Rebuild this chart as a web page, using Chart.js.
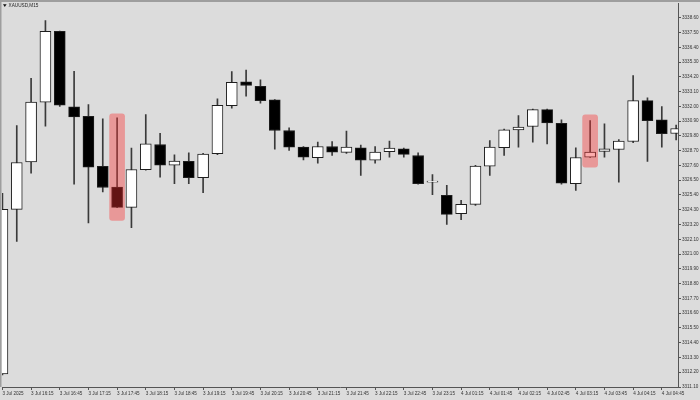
<!DOCTYPE html>
<html>
<head>
<meta charset="utf-8">
<script src="https://cdn.jsdelivr.net/npm/chart.js@4.4.1/dist/chart.umd.min.js"></script>
<style>
  html, body { margin: 0; padding: 0; background: #dcdcdc; }
  #wrap { width: 700px; height: 400px; position: relative; }
</style>
</head>
<body>
<div id="wrap"><canvas id="candles"></canvas></div>
<script>
const symbol = 'XAUUSD,M15';

// one entry per M15 bar
const times = [
  '3 Jul 15:45', '3 Jul 16:00', '3 Jul 16:15', '3 Jul 16:30', '3 Jul 16:45', '3 Jul 17:00',
  '3 Jul 17:15', '3 Jul 17:30', '3 Jul 17:45', '3 Jul 18:00', '3 Jul 18:15', '3 Jul 18:30',
  '3 Jul 18:45', '3 Jul 19:00', '3 Jul 19:15', '3 Jul 19:30', '3 Jul 19:45', '3 Jul 20:00',
  '3 Jul 20:15', '3 Jul 20:30', '3 Jul 20:45', '3 Jul 21:00', '3 Jul 21:15', '3 Jul 21:30',
  '3 Jul 21:45', '3 Jul 22:00', '3 Jul 22:15', '3 Jul 22:30', '3 Jul 22:45', '3 Jul 23:00',
  '3 Jul 23:15', '4 Jul 01:00', '4 Jul 01:15', '4 Jul 01:30', '4 Jul 01:45', '4 Jul 02:00',
  '4 Jul 02:15', '4 Jul 02:30', '4 Jul 02:45', '4 Jul 03:00', '4 Jul 03:15', '4 Jul 03:30',
  '4 Jul 03:45', '4 Jul 04:00', '4 Jul 04:15', '4 Jul 04:30', '4 Jul 04:45', '4 Jul 05:00'
];

// labels shown under every second bar
const xTickLabels = [
  '3 Jul 2025', '3 Jul 16:15', '3 Jul 16:45', '3 Jul 17:15', '3 Jul 17:45', '3 Jul 18:15',
  '3 Jul 18:45', '3 Jul 19:15', '3 Jul 19:45', '3 Jul 20:15', '3 Jul 20:45', '3 Jul 21:15',
  '3 Jul 21:45', '3 Jul 22:15', '3 Jul 22:45', '3 Jul 23:15', '4 Jul 01:15', '4 Jul 01:45',
  '4 Jul 02:15', '4 Jul 02:45', '4 Jul 03:15', '4 Jul 03:45', '4 Jul 04:15', '4 Jul 04:45'
];

const yTicks = [
  3311.10, 3312.20, 3313.30, 3314.40, 3315.50, 3316.60, 3317.70, 3318.80, 3319.90,
  3321.00, 3322.10, 3323.20, 3324.30, 3325.40, 3326.50, 3327.60, 3328.70, 3329.80,
  3330.90, 3332.00, 3333.10, 3334.20, 3335.30, 3336.40, 3337.50, 3338.60
];

const opens = [
  3312.07, 3324.33, 3327.87, 3332.31, 3337.58, 3331.96, 3331.26, 3327.53, 3325.98, 3324.48,
  3327.28, 3329.16, 3327.62, 3327.90, 3326.69, 3328.47, 3332.06, 3333.82, 3333.49, 3332.48,
  3330.20, 3328.96, 3328.17, 3329.01, 3328.57, 3328.92, 3327.99, 3328.62, 3328.84, 3328.34,
  3326.36, 3325.37, 3324.01, 3324.70, 3327.55, 3328.92, 3330.25, 3330.50, 3331.76, 3330.74,
  3326.24, 3328.22, 3328.64, 3328.79, 3329.38, 3332.43, 3330.99, 3329.98
];
const highs = [
  3325.52, 3330.57, 3334.09, 3338.38, 3337.60, 3334.61, 3332.13, 3331.07, 3331.14, 3328.89,
  3331.39, 3330.00, 3328.39, 3328.54, 3328.50, 3332.56, 3334.59, 3334.71, 3333.97, 3332.50,
  3330.40, 3329.00, 3329.33, 3329.38, 3330.15, 3329.11, 3329.01, 3329.41, 3328.90, 3328.54,
  3326.91, 3326.11, 3325.00, 3327.60, 3329.46, 3330.30, 3331.32, 3331.80, 3331.80, 3330.99,
  3328.92, 3330.94, 3330.70, 3329.53, 3334.29, 3332.63, 3331.98, 3330.60
];
const lows = [
  3312.00, 3321.95, 3327.03, 3330.52, 3332.00, 3326.21, 3323.31, 3325.62, 3324.45, 3322.97,
  3327.25, 3326.73, 3326.24, 3326.24, 3325.57, 3328.40, 3331.86, 3332.75, 3332.23, 3328.81,
  3328.71, 3328.02, 3327.77, 3328.34, 3328.50, 3326.86, 3327.77, 3328.22, 3328.22, 3326.20,
  3325.42, 3323.21, 3323.56, 3324.63, 3326.86, 3328.34, 3328.96, 3329.33, 3329.21, 3326.20,
  3325.74, 3328.20, 3328.22, 3326.36, 3329.30, 3327.90, 3328.96, 3329.50
];
const closes = [
  3324.33, 3327.82, 3332.31, 3337.58, 3332.08, 3331.22, 3327.47, 3325.96, 3324.48, 3327.30,
  3329.21, 3327.62, 3327.92, 3326.69, 3328.44, 3332.08, 3333.79, 3333.55, 3332.43, 3330.20,
  3328.96, 3328.22, 3329.01, 3328.59, 3328.96, 3327.99, 3328.59, 3328.89, 3328.42, 3326.24,
  3326.38, 3323.96, 3324.70, 3327.55, 3328.96, 3330.25, 3330.45, 3331.76, 3330.77, 3326.28,
  3328.19, 3328.59, 3328.84, 3329.41, 3332.43, 3330.94, 3329.96, 3330.35
];

// highlighted bars (pink boxes)
const markedBars = [8, 41];
const markedLow = [3323.51, 3327.47];
const markedHigh = [3331.44, 3331.37];

const wickData = times.map((t, i) => ({ x: i, y: [lows[i], highs[i]] }));
const bodyData = times.map((t, i) => ({ x: i, y: [opens[i], closes[i]] }));
const bodyColors = times.map((t, i) => closes[i] >= opens[i] ? '#ffffff' : '#000000');
const markData = markedBars.map((b, k) => ({ x: b, y: [markedLow[k], markedHigh[k]] }));

const FONT = "'Liberation Sans', Arial, sans-serif";

const terminalFrame = {
  id: 'terminalFrame',
  beforeDraw(chart) {
    const c = chart.ctx;
    c.save();
    c.fillStyle = '#dcdcdc';
    c.fillRect(0, 0, chart.width, chart.height);
    c.fillStyle = '#9e9e9e';
    c.fillRect(0, 0, chart.width, 2);
    c.fillRect(0, 0, 1.5, chart.chartArea.bottom);
    c.restore();
  },
  afterDraw(chart) {
    const c = chart.ctx;
    c.save();
    c.fillStyle = '#111';
    c.beginPath();
    c.moveTo(3, 4.3);
    c.lineTo(6.6, 4.3);
    c.lineTo(4.8, 6.9);
    c.closePath();
    c.fill();
    c.fillStyle = '#222';
    c.font = '4.7px ' + FONT;
    c.textBaseline = 'middle';
    c.fillText(symbol, 8.5, 5.6);
    c.restore();
  }
};

new Chart(document.getElementById('candles'), {
  type: 'bar',
  data: {
    datasets: [
      {
        label: 'marks',
        data: markData,
        order: 0,
        grouped: false,
        barThickness: 15,
        backgroundColor: 'rgba(250, 50, 50, 0.4)',
        borderWidth: 0,
        borderRadius: 3,
        borderSkipped: false
      },
      {
        label: 'body',
        data: bodyData,
        order: 1,
        grouped: false,
        barThickness: 11,
        minBarLength: 1,
        backgroundColor: bodyColors,
        borderColor: '#1e1e1e',
        borderWidth: 1,
        borderSkipped: false
      },
      {
        label: 'wick',
        data: wickData,
        order: 2,
        grouped: false,
        barThickness: 1,
        backgroundColor: '#3a3a3a',
        borderWidth: 0
      }
    ]
  },
  options: {
    responsive: true,
    maintainAspectRatio: false,
    animation: false,
    layout: { padding: { left: 2, top: 3, right: 0, bottom: 0 } },
    plugins: { legend: { display: false }, tooltip: { enabled: false } },
    scales: {
      x: {
        type: 'linear',
        offset: false,
        min: -0.03,
        max: 47.13,
        afterBuildTicks: axis => {
          axis.ticks = xTickLabels.map((_, k) => ({ value: 2 * k }));
        },
        afterFit: scale => { scale.height = 13; },
        ticks: {
          autoSkip: false,
          maxRotation: 0,
          minRotation: 0,
          align: 'start',
          padding: 1,
          color: '#333',
          font: { family: FONT, size: 4.6 },
          callback: (value, index) => xTickLabels[index]
        },
        grid: { offset: false, drawOnChartArea: false, tickLength: 3, color: '#555' },
        border: { color: '#555', width: 1 }
      },
      y: {
        type: 'linear',
        position: 'right',
        min: 3311.10,
        max: 3339.64,
        afterBuildTicks: axis => {
          axis.ticks = yTicks.map(v => ({ value: v }));
        },
        afterFit: scale => { scale.width = 22; },
        ticks: {
          padding: 1,
          color: '#333',
          font: { family: FONT, size: 4.6 },
          callback: value => value.toFixed(2)
        },
        grid: { drawOnChartArea: false, tickLength: 3, color: '#555' },
        border: { color: '#555', width: 1 }
      }
    }
  },
  plugins: [terminalFrame]
});
</script>
</body>
</html>
